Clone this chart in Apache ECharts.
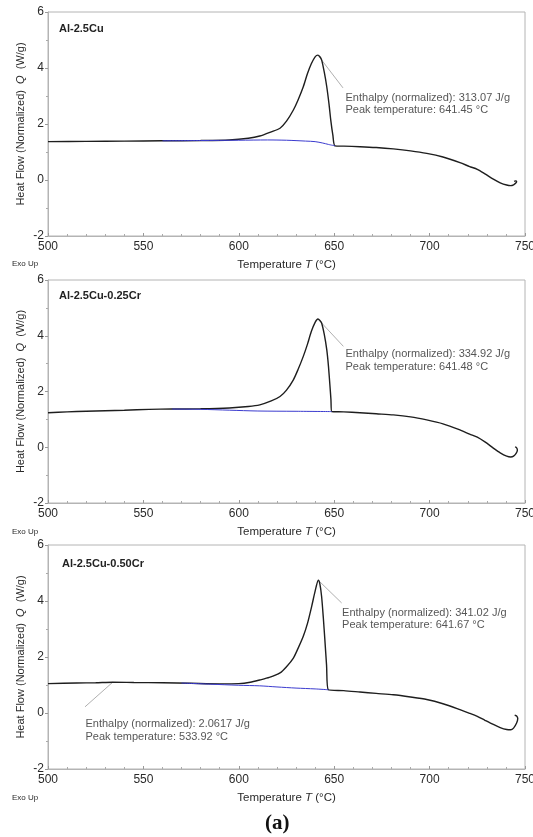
<!DOCTYPE html>
<html>
<head>
<meta charset="utf-8">
<script src="https://cdn.jsdelivr.net/npm/echarts@6/dist/echarts.min.js"></script>
<style>
  html, body { margin: 0; padding: 0; background: #fff; }
  #chart { width: 533px; height: 837px; }
</style>
</head>
<body>
<div id="chart"></div>
<script>
// DSC heat-flow traces, one panel per alloy (temperature in °C, heat flow in W/g)
const alloys = ['Al-2.5Cu', 'Al-2.5Cu-0.25Cr', 'Al-2.5Cu-0.50Cr'];

const temp1 = [500, 520, 540, 560, 580, 595, 605, 611, 617, 621.6, 625, 628.6, 631, 633.8, 636, 638, 640, 641.45, 642.5, 643.4, 644.8, 646.1, 647.3, 648.2, 649.3, 650.4, 655, 663.5, 672, 681, 690, 698.5, 707, 715.9, 721, 725, 729, 733.4, 737, 740.4, 742.5, 744, 745.3, 745.6, 745, 744.3];
const flow1 = [1.37, 1.38, 1.39, 1.40, 1.41, 1.43, 1.49, 1.57, 1.72, 1.85, 2.1, 2.5, 2.85, 3.33, 3.8, 4.15, 4.40, 4.46, 4.40, 4.29, 3.85, 3.33, 2.7, 2.14, 1.6, 1.22, 1.21, 1.19, 1.16, 1.11, 1.04, 0.95, 0.82, 0.62, 0.48, 0.38, 0.22, 0.03, -0.1, -0.18, -0.2, -0.17, -0.1, -0.05, -0.03, -0.05];
const baseT1 = [560, 580, 600, 615, 625, 635, 640, 644, 647, 650.4];
const baseQ1 = [1.40, 1.41, 1.42, 1.43, 1.42, 1.39, 1.37, 1.32, 1.27, 1.22];

const temp2 = [500, 510, 520, 530, 540, 553, 565, 580, 595, 605, 611, 617, 621.6, 625, 628.6, 631, 633.8, 636, 638, 640, 641.48, 642.5, 643.4, 644.8, 646.1, 647, 647.8, 648.3, 648.7, 655, 663.5, 672, 681, 690, 698.5, 707, 715.9, 721, 725, 729, 733.4, 737, 740.4, 742.5, 744, 745.5, 746, 745.6, 744.8];
const flow2 = [1.24, 1.27, 1.29, 1.31, 1.33, 1.36, 1.37, 1.38, 1.41, 1.46, 1.52, 1.66, 1.82, 2.05, 2.42, 2.78, 3.26, 3.7, 4.15, 4.48, 4.6, 4.55, 4.46, 4.05, 3.5, 2.9, 2.18, 1.7, 1.28, 1.27, 1.24, 1.20, 1.16, 1.09, 0.98, 0.84, 0.62, 0.47, 0.36, 0.19, -0.03, -0.2, -0.32, -0.35, -0.32, -0.2, -0.1, -0.02, 0.01];
const baseT2 = [565, 580, 595, 610, 630, 648.7];
const baseQ2 = [1.37, 1.36, 1.33, 1.30, 1.29, 1.28];

const temp3 = [500, 515, 525, 533.92, 545, 560, 575, 590, 600, 606, 611, 616, 621.6, 625, 628.6, 631, 633.8, 636, 638.2, 640, 641.67, 642.5, 643.4, 644.3, 645.1, 646, 646.9, 655, 663.5, 672, 681, 690, 698.5, 707, 715.9, 721, 725, 729, 733.4, 737, 740.4, 742.5, 744, 745.6, 746.2, 745.6, 744.6];
const flow3 = [1.05, 1.07, 1.08, 1.10, 1.09, 1.08, 1.06, 1.04, 1.05, 1.10, 1.18, 1.27, 1.43, 1.65, 1.96, 2.3, 2.74, 3.2, 3.81, 4.35, 4.74, 4.6, 4.16, 3.4, 2.62, 1.7, 0.83, 0.80, 0.75, 0.70, 0.65, 0.57, 0.48, 0.33, 0.12, -0.01, -0.12, -0.26, -0.41, -0.52, -0.59, -0.6, -0.54, -0.36, -0.2, -0.11, -0.08];
const baseT3 = [570, 585, 600, 611, 620, 630, 640, 646.9];
const baseQ3 = [1.07, 1.03, 0.99, 0.97, 0.93, 0.89, 0.86, 0.83];

// Peak annotations: panel, peak T/Q, enthalpy, leader end T/Q, text anchor T/Q
const notePanel = [0, 1, 2, 2];
const notePeakT = [641.45, 641.48, 641.67, 533.92];
const notePeakQ = [4.46, 4.6, 4.74, 1.10];
const noteEnthalpy = ['313.07', '334.92', '341.02', '2.0617'];
const noteEndT = [654.6, 654.8, 653.9, 519.4];
const noteEndQ = [3.29, 3.62, 3.93, 0.22];
const noteTextT = [656.2, 656.2, 654.4, 519.9];
const noteTextQ = [3.14, 3.54, 3.79, -0.19];

const xTicks = { min: 500, max: 750, step: 50 };
const yTicks = { min: -2, max: 6, step: 2 };

const pairs = (xs, ys) => xs.map((x, i) => [x, ys[i]]);
const curves = [[temp1, flow1], [temp2, flow2], [temp3, flow3]];
const baselines = [[baseT1, baseQ1], [baseT2, baseQ2], [baseT3, baseQ3]];

const FONT = '"Liberation Sans", Arial, sans-serif';
const GRID_TOPS = [12, 280, 545];
const GRID_H = [224, 223, 224];
const FRAME = '#b4b4b4';
const TXT = '#2a2a2a';

const grids = GRID_TOPS.map((t, i) => ({
  left: 48, top: t, width: 477, height: GRID_H[i],
  outerBoundsMode: 'none', containLabel: false,
  show: true, borderColor: FRAME, borderWidth: 1, backgroundColor: '#fff'
}));

const xAxes = GRID_TOPS.map((t, i) => ({
  type: 'value', gridIndex: i,
  min: xTicks.min, max: xTicks.max, interval: xTicks.step,
  axisLine: { onZero: false, lineStyle: { color: FRAME } },
  axisTick: { inside: true, length: 3, lineStyle: { color: '#999' } },
  minorTick: { show: true, splitNumber: 5, length: 2, lineStyle: { color: '#aaa' } },
  splitLine: { show: false },
  axisLabel: { color: TXT, fontSize: 12, fontFamily: FONT, margin: 5 },
  name: 'Temperature {i|T} (°C)',
  nameLocation: 'middle', nameGap: 23,
  nameTextStyle: {
    color: TXT, fontSize: 11.5, fontFamily: FONT,
    rich: { i: { fontStyle: 'italic', fontSize: 11.5, fontFamily: FONT, color: TXT } }
  }
}));

const yAxes = GRID_TOPS.map((t, i) => ({
  type: 'value', gridIndex: i,
  min: yTicks.min, max: yTicks.max, interval: yTicks.step,
  axisLine: { show: true, onZero: false, lineStyle: { color: FRAME } },
  axisTick: { show: true, length: 3, lineStyle: { color: '#999' } },
  minorTick: { show: true, splitNumber: 2, length: 2, lineStyle: { color: '#aaa' } },
  splitLine: { show: false },
  axisLabel: { color: TXT, fontSize: 12, fontFamily: FONT, margin: 4 },
  name: 'Heat Flow (Normalized)  {i|Q}  (W/g)',
  nameLocation: 'middle', nameGap: 22, nameRotate: 90, nameMoveOverlap: false,
  nameTextStyle: {
    color: TXT, fontSize: 11, fontFamily: FONT,
    rich: { i: { fontStyle: 'italic', fontSize: 11, fontFamily: FONT, color: TXT } }
  }
}));

const series = [];
curves.forEach(([xs, ys], i) => {
  series.push({
    type: 'line', xAxisIndex: i, yAxisIndex: i,
    data: pairs(xs, ys), showSymbol: false, smooth: 0.25,
    lineStyle: { color: '#1e1e1e', width: 1.4 }, silent: true, z: 3
  });
});
baselines.forEach(([xs, ys], i) => {
  series.push({
    type: 'line', xAxisIndex: i, yAxisIndex: i,
    data: pairs(xs, ys), showSymbol: false, smooth: 0.3,
    lineStyle: { color: '#3b3bcf', width: 1 }, silent: true, z: 4
  });
});
notePanel.forEach((p, k) => {
  series.push({
    type: 'line', xAxisIndex: p, yAxisIndex: p,
    data: [[notePeakT[k], notePeakQ[k]], [noteEndT[k], noteEndQ[k]]],
    showSymbol: false, lineStyle: { color: '#b0b0b0', width: 1 }, silent: true, z: 2
  });
  series.push({
    type: 'scatter', xAxisIndex: p, yAxisIndex: p,
    data: [[noteTextT[k], noteTextQ[k]]],
    symbolSize: 1, itemStyle: { color: 'rgba(0,0,0,0)' }, silent: true, z: 5,
    label: {
      show: true, position: [0, 0], align: 'left', verticalAlign: 'top',
      color: TXT, fontSize: 11, fontFamily: FONT, lineHeight: 12.5,
      formatter: () => 'Enthalpy (normalized): ' + noteEnthalpy[k] + ' J/g\nPeak temperature: ' + notePeakT[k] + ' °C'
    }
  });
});

const labelTops = [23, 290, 558];
const labelLefts = [59, 59, 62];
const exoTops = [260, 528, 794];

const graphic = [];
alloys.forEach((name, i) => {
  graphic.push({
    type: 'text', left: labelLefts[i], top: labelTops[i], z: 10,
    style: { text: name, font: 'bold 11px ' + FONT, fill: '#222' }
  });
  graphic.push({
    type: 'text', left: 12, top: exoTops[i], z: 10,
    style: { text: 'Exo Up', font: '8px ' + FONT, fill: TXT }
  });
});
graphic.push({
  type: 'text', left: 265, top: 813, z: 10,
  style: { text: '(a)', font: 'bold 21px "Liberation Serif", "DejaVu Serif", serif', fill: '#111' }
});

const chart = echarts.init(document.getElementById('chart'), null, { renderer: 'canvas' });
chart.setOption({
  animation: false,
  backgroundColor: '#fff',
  grid: grids,
  xAxis: xAxes,
  yAxis: yAxes,
  series: series,
  graphic: graphic
});
</script>
</body>
</html>
